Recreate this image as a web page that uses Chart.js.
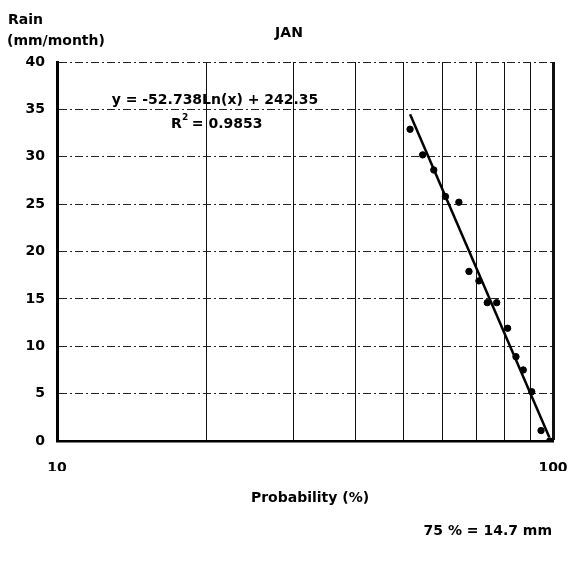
<!DOCTYPE html>
<html>
<head>
<meta charset="utf-8">
<script src="https://cdn.jsdelivr.net/npm/chart.js@4.4.1/dist/chart.umd.min.js"></script>
<style>
  html, body { margin: 0; padding: 0; background: #fff; }
  #chart { display: block; }
</style>
</head>
<body>
<canvas id="chart" width="577" height="562"></canvas>
<script>
// January rainfall vs exceedance probability
const probability = [51.5, 54.6, 57.5, 60.7, 64.6, 67.7, 70.9, 73.7, 77.0, 81.0, 84.2, 87.1, 90.6, 94.6, 98.5];
const rainfall = [32.9, 30.2, 28.6, 25.8, 25.2, 17.9, 16.9, 14.6, 14.6, 11.9, 8.9, 7.5, 5.2, 1.1, 0.0];

// log trend y = a*ln(x) + b, drawn between these probabilities
const trendA = -52.738;
const trendB = 242.35;
const trendRange = [51.5, 98.3];

const xTicks = [10, 20, 30, 40, 50, 60, 70, 80, 90, 100];
const xTickLabels = ['10', '', '', '', '', '', '', '', '', '100'];
const yTicks = [0, 5, 10, 15, 20, 25, 30, 35, 40];

const FONT = 'DejaVu Sans';

const observed = probability.map((p, i) => ({ x: p, y: rainfall[i] }));
const trend = trendRange.map(p => ({ x: p, y: trendA * Math.log(p) + trendB }));

const textPlugin = {
    id: 'texts',
    beforeDraw(chart) {
        const ctx = chart.ctx;
        ctx.save();
        ctx.fillStyle = '#fff';
        ctx.fillRect(0, 0, chart.width, chart.height);
        ctx.restore();
    },
    afterDraw(chart) {
        const ctx = chart.ctx;
        ctx.save();
        ctx.fillStyle = '#000';
        ctx.font = 'bold 14px ' + FONT;
        ctx.textBaseline = 'middle';
        ctx.textAlign = 'left';
        ctx.fillText('Rain', 8, 20);
        ctx.fillText('(mm/month)', 7, 41);
        ctx.textAlign = 'center';
        ctx.fillText('JAN', 289, 33);
        ctx.fillText('y = -52.738Ln(x) + 242.35', 215, 100);
        ctx.fillText('Probability (%)', 310, 498);
        ctx.textAlign = 'left';
        ctx.fillText('R', 171, 124);
        ctx.font = 'bold 9px ' + FONT;
        ctx.fillText('2', 182, 118);
        ctx.font = 'bold 14px ' + FONT;
        ctx.fillText(' = 0.9853', 187, 124);
        ctx.textAlign = 'right';
        ctx.fillText('75 % = 14.7 mm', 552, 531);
        ctx.restore();
    }
};

const config = {
    type: 'scatter',
    data: {
        datasets: [{
            type: 'line',
            data: trend,
            borderColor: '#000',
            borderWidth: 2.5,
            pointRadius: 0,
            fill: false,
        }, {
            data: observed,
            backgroundColor: '#000',
            borderColor: '#000',
            pointRadius: 3.2,
        }]
    },
    options: {
        responsive: false,
        animation: false,
        layout: {
            padding: { top: 62, right: 24, bottom: 91, left: 0 }
        },
        scales: {
            x: {
                type: 'logarithmic',
                min: 10,
                max: 100,
                afterBuildTicks: (s) => { s.ticks = xTicks.map(v => ({ value: v })); },
                afterFit: (s) => {
                    s.height = 30;
                    s.paddingLeft = 0;
                    s.paddingRight = 0;
                },
                ticks: {
                    autoSkip: false,
                    maxRotation: 0,
                    padding: 19,
                    color: '#000',
                    font: { family: FONT, size: 14, weight: 'bold' },
                    callback: (v) => xTickLabels[xTicks.indexOf(v)] ?? '',
                },
                grid: {
                    color: '#111',
                    lineWidth: (c) => (c.tick && c.tick.value === 100 ? 3 : 1),
                    drawTicks: false,
                },
                border: { display: true, color: '#000', width: 2.5 },
            },
            y: {
                min: 0,
                max: 40,
                afterBuildTicks: (s) => { s.ticks = yTicks.map(v => ({ value: v })); },
                afterFit: (s) => {
                    s.width = 57;
                    s.paddingTop = 0;
                    s.paddingBottom = 0;
                },
                ticks: {
                    padding: 12,
                    color: '#000',
                    font: { family: FONT, size: 14, weight: 'bold' },
                },
                grid: {
                    color: '#222',
                    lineWidth: 1,
                    drawTicks: false,
                },
                border: { display: true, color: '#000', width: 3, dash: [8, 3, 2, 3] },
            }
        },
        plugins: {
            legend: { display: false },
            title: { display: false },
            tooltip: { enabled: false },
        }
    },
    plugins: [textPlugin]
};

new Chart(document.getElementById('chart').getContext('2d'), config);
</script>
</body>
</html>
